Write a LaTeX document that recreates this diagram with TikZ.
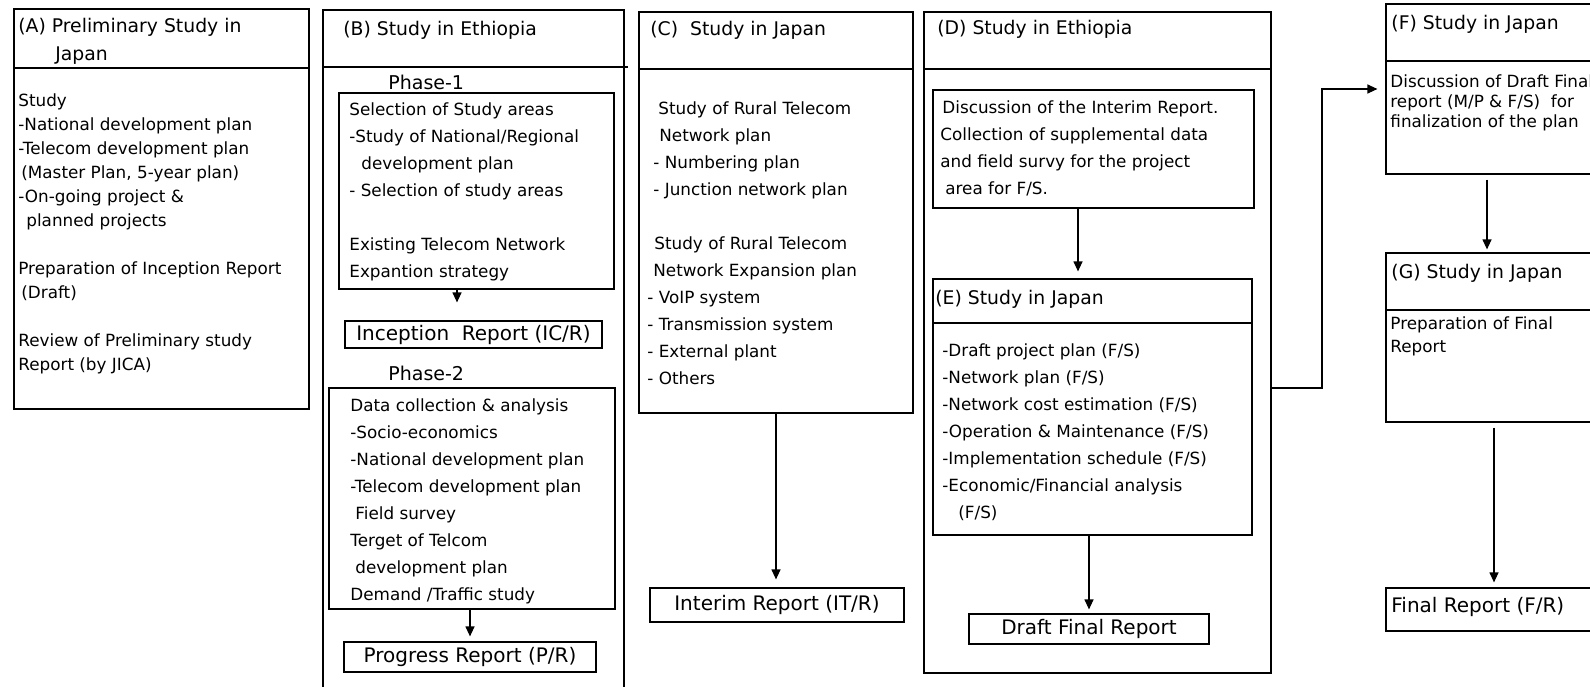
\documentclass[tikz,border=0pt]{standalone}
\usepackage{fontspec}
\setmainfont{DejaVu Sans}
\usetikzlibrary{arrows.meta,
                fit}

\begin{document}
\begin{tikzpicture}[x=0.5pt, y=-0.5pt,
       frame/.style={draw, line width=0.6pt, inner sep=0pt},
       body/.style={anchor=north west, align=left, inner sep=0pt, font=\fontsize{8.4}{13.5}\selectfont},
       head/.style={anchor=base west, align=left, inner sep=0pt, font=\fontsize{9.4}{14}\selectfont},
       report/.style={draw, line width=0.6pt, inner sep=0pt, font=\fontsize{10}{12}\selectfont},
       arr/.style={-{Triangle[length=5pt,width=4.5pt]}, line width=0.6pt}]
       \useasboundingbox (0,0) rectangle (1590,686);
       \clip (0,0) rectangle (1590,686);

       % (A)
       \node[frame, fit={(14,9) (309,409)}] (boxA) {};
       \draw[line width=0.6pt] (boxA.west |- 0,68) -- (boxA.east |- 0,68);
       \node[head, anchor=north west] (titA) at (18,18) {(A) Preliminary Study in\\\hspace*{18.5pt}Japan};
       \node[body, font=\fontsize{8.4}{12}\selectfont] (txtA) at (18,93)
          {Study\\
           -National development plan\\
           -Telecom development plan\\
           \hspace*{1.5pt}(Master Plan, 5-year plan)\\
           -On-going project \&\\
           \hspace*{4pt}planned projects\\
           \mbox{}\\
           Preparation of Inception Report\\
           \hspace*{1.5pt}(Draft)\\
           \mbox{}\\
           Review of Preliminary study\\
           Report (by JICA)};

       % (B)
       \node[frame, fit={(323,10) (624,700)}] (boxB) {};
       \draw[line width=0.6pt] (boxB.west |- 0,67) -- (628,67);
       \node[head] (titB) at (343,35) {(B) Study in Ethiopia};
       \node[head, font=\fontsize{9.5}{12}\selectfont] (ph1) at (388,89) {Phase-1};
       \node[frame, fit={(339,93) (614,289)}] (p1box) {};
       \node[body] (txtB1) at (349,102)
          {Selection of Study areas\\
           -Study of National/Regional\\
           \hspace*{6pt}development plan\\
           - Selection of study areas\\
           \mbox{}\\
           Existing Telecom Network\\
           Expantion strategy};
       \node[report, minimum width=128.5pt, minimum height=13.5pt] (icr) at (473.5,334.5)
          {Inception\ \ Report (IC/R)};
       \draw[arr, shorten >=9pt] ([xshift=-9.75pt]p1box.south) -- ([xshift=-9.75pt]p1box.south |- icr.north);
       \node[head, font=\fontsize{9.5}{12}\selectfont] (ph2) at (388,380) {Phase-2};
       \node[frame, fit={(329,388) (615,609)}] (p2box) {};
       \node[body] (txtB2) at (350,398)
          {Data collection \& analysis\\
           -Socio-economics\\
           -National development plan\\
           -Telecom development plan\\
           \hspace*{2.5pt}Field survey\\
           Terget of Telcom\\
           \hspace*{2.5pt}development plan\\
           Demand /Traffic study};
       \node[report, minimum width=126pt, minimum height=15pt] (pgr) at (470,657)
          {Progress Report (P/R)};
       \draw[arr, shorten >=2.5pt] (p2box.south -| pgr.north) -- (pgr.north);

       % (C)
       \node[frame, fit={(639,12) (913,413)}] (boxC) {};
       \draw[line width=0.6pt] (boxC.west |- 0,69) -- (boxC.east |- 0,69);
       \node[head] (titC) at (650,35) {(C)\ \ Study in Japan};
       \node[body] (txtC) at (647,101)
          {\hspace*{5.5pt}Study of Rural Telecom\\
           \hspace*{6pt}Network plan\\
           \hspace*{3pt}- Numbering plan\\
           \hspace*{3pt}- Junction network plan\\
           \mbox{}\\
           \hspace*{3.5pt}Study of Rural Telecom\\
           \hspace*{3pt}Network Expansion plan\\
           - VoIP system\\
           - Transmission system\\
           - External plant\\
           - Others};
       \node[report, minimum width=127pt, minimum height=17pt] (itr) at (777,605)
          {Interim Report (IT/R)};
       \draw[arr, shorten >=4pt] (boxC.south) -- (boxC.south |- itr.north);

       % (D) and (E)
       \node[frame, fit={(924,12) (1271,673)}] (boxD) {};
       \draw[line width=0.6pt] (boxD.west |- 0,69) -- (boxD.east |- 0,69);
       \node[head] (titD) at (937,34) {(D) Study in Ethiopia};
       \node[frame, fit={(933,90) (1254,208)}] (dsc) {};
       \node[body] (txtD) at (940,100)
          {\hspace*{1pt}Discussion of the Interim Report.\\
           Collection of supplemental data\\
           and field survy for the project\\
           \hspace*{2.5pt}area for F/S.};
       \node[frame, fit={(933,279) (1252,535)}] (boxE) {};
       \draw[line width=0.6pt] (boxE.west |- 0,323) -- (boxE.east |- 0,323);
       \draw[arr, shorten >=3.5pt] ([xshift=-7.75pt]dsc.south) -- ([xshift=-7.75pt]dsc.south |- boxE.north);
       \node[head] (titE) at (935,304) {(E) Study in Japan};
       \node[body] (txtE) at (942,343)
          {-Draft project plan (F/S)\\
           -Network plan (F/S)\\
           -Network cost estimation (F/S)\\
           -Operation \& Maintenance (F/S)\\
           -Implementation schedule (F/S)\\
           -Economic/Financial analysis\\
           \hspace*{8pt}(F/S)};
       \node[report, minimum width=120pt, minimum height=15pt] (dfr) at (1089,629)
          {Draft Final Report};
       \draw[arr, shorten >=2pt] (boxE.south -| dfr.north) -- (dfr.north);

       % (F) and (G)
       \node[frame, fit={(1386,4) (1610,174)}] (boxF) {};
       \draw[line width=0.6pt] (boxF.west |- 0,61) -- (boxF.east |- 0,61);
       \node[head] (titF) at (1391,29) {(F) Study in Japan};
       \node[body, font=\fontsize{8.4}{10}\selectfont] (txtF) at (1390,74)
          {Discussion of Draft Final\\
           report (M/P \& F/S)\ \ for\\
           finalization of the plan};
       \coordinate (bend) at (1322,388);
       \draw[arr, shorten >=4pt] (boxD.east |- bend) -- (bend) |- (boxF.west);
       \node[frame, fit={(1386,253) (1610,422)}] (boxG) {};
       \draw[line width=0.6pt] (boxG.west |- 0,310) -- (boxG.east |- 0,310);
       \draw[arr, shorten <=2.5pt, shorten >=1.5pt] ([xshift=-5.5pt]boxF.south) -- ([xshift=-5.5pt]boxF.south |- boxG.north);
       \node[head] (titG) at (1391,278) {(G) Study in Japan};
       \node[body, font=\fontsize{8.4}{11.5}\selectfont] (txtG) at (1390,316)
          {Preparation of Final\\
           Report};
       \node[frame, fit={(1386,588) (1610,631)}] (frb) {};
       \node[head, font=\fontsize{10}{12}\selectfont] (frt) at (1391,612) {Final Report (F/R)};
       \draw[arr, shorten <=2.5pt, shorten >=2.5pt] ([xshift=-2pt]boxG.south) -- ([xshift=-2pt]boxG.south |- frb.north);
\end{tikzpicture}
\end{document}
